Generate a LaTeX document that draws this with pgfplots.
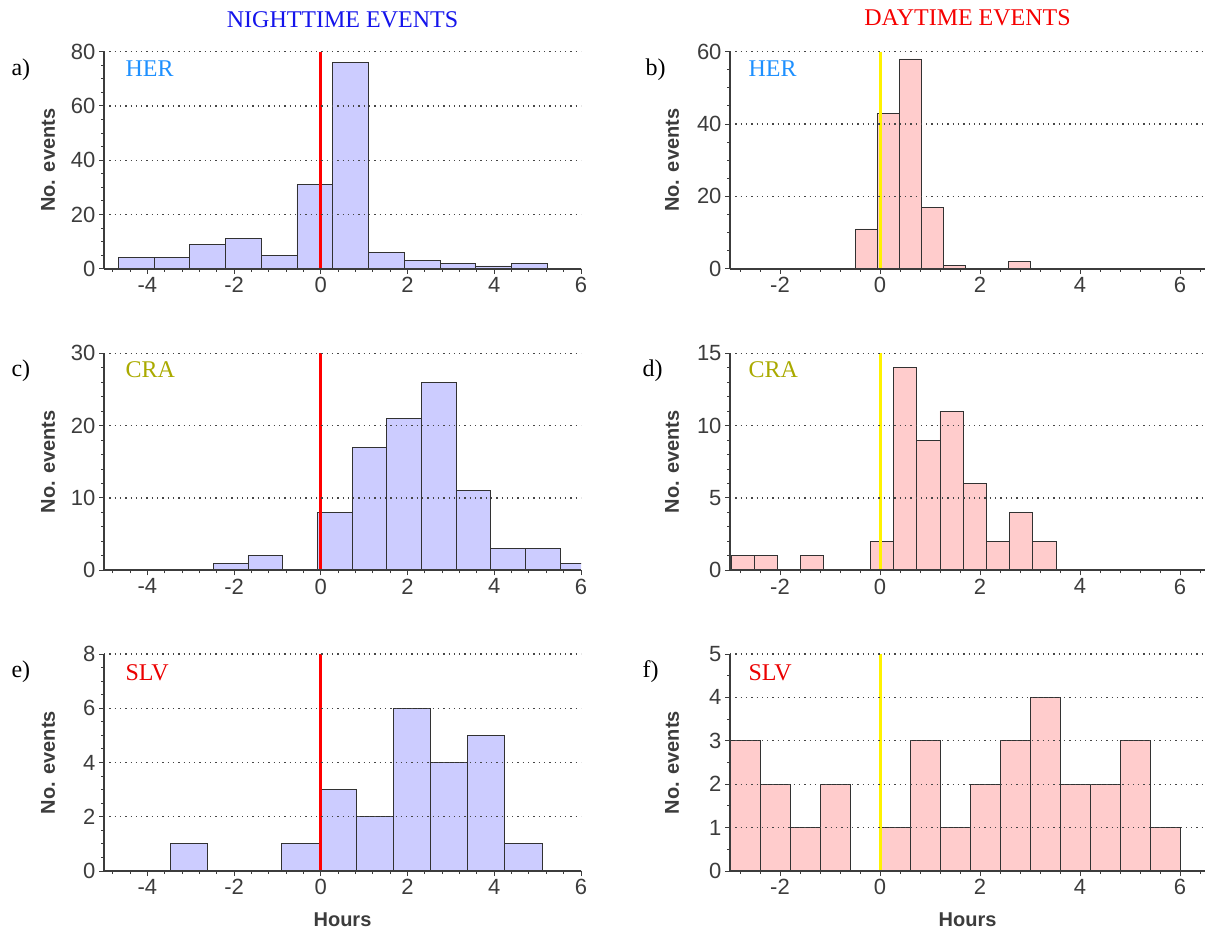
\documentclass[border=0pt]{standalone}
\usepackage{fontspec}
\setmainfont{Liberation Serif}
\setsansfont{Liberation Sans}
\usepackage{pgfplots}
\pgfplotsset{compat=1.18}
\definecolor{barblue}{RGB}{204,204,255}
\definecolor{barpink}{RGB}{255,204,204}
\definecolor{edgegray}{RGB}{50,50,50}
\definecolor{axgray}{RGB}{60,60,60}
\definecolor{tickgray}{RGB}{60,60,60}
\definecolor{gridgray}{RGB}{70,70,70}
\definecolor{herblue}{RGB}{30,144,255}
\definecolor{craolive}{RGB}{170,170,0}
\definecolor{slvred}{RGB}{235,0,0}
\definecolor{titleblue}{RGB}{20,20,235}
\definecolor{titlered}{RGB}{245,0,0}
\newcommand{\tickfont}{\sffamily\fontsize{22}{22}\selectfont}
\newcommand{\labfont}{\sffamily\bfseries\fontsize{20}{20}\selectfont}
\newcommand{\serfont}{\rmfamily\fontsize{24}{24}\selectfont}
\pgfplotsset{
  hist/.style={
    scale only axis, height=217pt,
    axis lines=left, axis line style={-, draw=axgray, line width=1.8pt},
    axis on top,
    ymin=0,
    ymajorgrids,
    major grid style={draw=gridgray, line width=1.3pt, dash pattern=on 1.3pt off 4pt},
    tick align=outside, major tick length=5pt, minor tick length=3pt,
    tick style={draw=axgray, line width=1pt},
    ticklabel style={font=\tickfont, text=tickgray},
    /pgf/number format/assume math mode=true,
    ylabel={No. events},
    label style={font=\labfont, text=tickgray},
  },
  nightax/.style={hist, width=477pt, xmin=-5, xmax=6, xtick={-4,-2,...,6},
    minor xtick={-4.8,-4.4,...,6},
    ylabel style={at={(axis description cs:-0.117,0.5)}, anchor=center}},
  dayax/.style={hist, width=475pt, xmin=-3, xmax=6.5, xtick={-2,0,...,6},
    minor xtick={-2.8,-2.4,...,6.4},
    ylabel style={at={(axis description cs:-0.122,0.5)}, anchor=center}},
  hourslabel/.style={xlabel={Hours}, xlabel style={at={(axis description cs:0.5,-0.226)}, anchor=center}},
}
\begin{document}
\begin{tikzpicture}
\path[use as bounding box] (0pt,0pt) rectangle (1206pt,-932pt);

% a) nighttime HER
\begin{axis}[nightax, name=a, at={(104pt,-51.7pt)}, anchor=north west,
  ymax=80, ytick={0,20,...,80}, minor y tick num=3]
\addplot[ybar interval, fill=barblue, draw=edgegray, line width=0.8pt] coordinates {
(-4.670,4) (-3.846,4) (-3.022,9) (-2.198,11) (-1.374,5) (-0.550,31) (0.274,76)
(1.098,6) (1.922,3) (2.746,2) (3.570,1) (4.394,2) (5.218,0)};
\addplot[draw=red, line width=3pt] coordinates {(0,0) (0,80)};
\end{axis}

% b) daytime HER
\begin{axis}[dayax, name=b, at={(730pt,-51.7pt)}, anchor=north west,
  ymax=60, ytick={0,20,...,60}, minor y tick num=3]
\addplot[ybar interval, fill=barpink, draw=edgegray, line width=0.8pt] coordinates {
(-0.487,11) (-0.050,43) (0.387,58) (0.824,17) (1.261,1) (1.698,0) (2.135,0)
(2.572,2) (3.009,0)};
\addplot[draw=yellow, line width=3pt] coordinates {(0,0) (0,60)};
\end{axis}

% c) nighttime CRA
\begin{axis}[nightax, name=c, at={(104pt,-353.3pt)}, anchor=north west,
  ymax=30, ytick={0,10,...,30}, minor y tick num=4]
\addplot[ybar interval, fill=barblue, draw=edgegray, line width=0.8pt] coordinates {
(-2.48,1) (-1.68,2) (-0.88,0) (-0.08,8) (0.72,17) (1.52,21) (2.32,26) (3.12,11)
(3.92,3) (4.72,3) (5.52,1) (6.32,0)};
\addplot[draw=red, line width=3pt] coordinates {(0,0) (0,30)};
\end{axis}

% d) daytime CRA
\begin{axis}[dayax, name=d, at={(730pt,-353.3pt)}, anchor=north west,
  ymax=15, ytick={0,5,...,15}, minor y tick num=4]
\addplot[ybar interval, fill=barpink, draw=edgegray, line width=0.8pt] coordinates {
(-2.980,1) (-2.516,1) (-2.051,0) (-1.587,1) (-1.123,0) (-0.658,0) (-0.194,2)
(0.270,14) (0.734,9) (1.199,11) (1.663,6) (2.127,2) (2.592,4) (3.056,2) (3.520,0)};
\addplot[draw=yellow, line width=3pt] coordinates {(0,0) (0,15)};
\end{axis}

% e) nighttime SLV
\begin{axis}[nightax, hourslabel, name=e, at={(104pt,-654pt)}, anchor=north west,
  ymax=8, ytick={0,2,...,8}, minor y tick num=3]
\addplot[ybar interval, fill=barblue, draw=edgegray, line width=0.8pt] coordinates {
(-3.470,1) (-2.613,0) (-1.756,0) (-0.899,1) (-0.042,3) (0.815,2) (1.672,6)
(2.529,4) (3.386,5) (4.243,1) (5.100,0)};
\addplot[draw=red, line width=3pt] coordinates {(0,0) (0,8)};
\end{axis}

% f) daytime SLV
\begin{axis}[dayax, hourslabel, name=f, at={(730pt,-654pt)}, anchor=north west,
  ymax=5, ytick={0,1,...,5}, minor y tick num=1]
\addplot[ybar interval, fill=barpink, draw=edgegray, line width=0.8pt] coordinates {
(-3.0,3) (-2.4,2) (-1.8,1) (-1.2,2) (-0.6,0) (0.0,1) (0.6,3) (1.2,1) (1.8,2)
(2.4,3) (3.0,4) (3.6,2) (4.2,2) (4.8,3) (5.4,1) (6.0,0)};
\addplot[draw=yellow, line width=3pt] coordinates {(0,0) (0,5)};
\end{axis}

% titles
\node[anchor=base, font=\serfont, text=titleblue] at ([yshift=24.7pt]a.north) {NIGHTTIME EVENTS};
\node[anchor=base, font=\serfont, text=titlered] at ([yshift=26.7pt]b.north) {DAYTIME EVENTS};

% panel letters
\node[anchor=base west, font=\serfont] at ([xshift=-96pt,yshift=-23.3pt]a.north west) {a)};
\node[anchor=base west, font=\serfont] at ([xshift=-88pt,yshift=-23.3pt]b.north west) {b)};
\node[anchor=base west, font=\serfont] at ([xshift=-96pt,yshift=-23.3pt]c.north west) {c)};
\node[anchor=base west, font=\serfont] at ([xshift=-91pt,yshift=-23.3pt]d.north west) {d)};
\node[anchor=base west, font=\serfont] at ([xshift=-96pt,yshift=-23.3pt]e.north west) {e)};
\node[anchor=base west, font=\serfont] at ([xshift=-91pt,yshift=-23.3pt]f.north west) {f)};

% station names
\node[anchor=base west, font=\serfont, text=herblue] at ([xshift=18pt,yshift=-25pt]a.north west) {HER};
\node[anchor=base west, font=\serfont, text=herblue] at ([xshift=15pt,yshift=-25pt]b.north west) {HER};
\node[anchor=base west, font=\serfont, text=craolive] at ([xshift=18pt,yshift=-24pt]c.north west) {CRA};
\node[anchor=base west, font=\serfont, text=craolive] at ([xshift=15pt,yshift=-24pt]d.north west) {CRA};
\node[anchor=base west, font=\serfont, text=slvred] at ([xshift=18pt,yshift=-26pt]e.north west) {SLV};
\node[anchor=base west, font=\serfont, text=slvred] at ([xshift=15pt,yshift=-26pt]f.north west) {SLV};
\end{tikzpicture}
\end{document}
